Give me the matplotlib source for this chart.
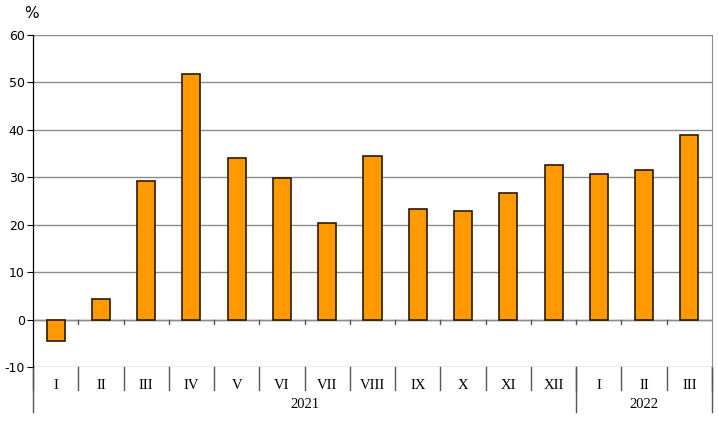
import matplotlib.pyplot as plt
from matplotlib.lines import Line2D
import matplotlib.transforms as mtransforms

plt.rcParams["axes.unicode_minus"] = False

# months and yearly growth, %
months = ["I", "II", "III", "IV", "V", "VI", "VII", "VIII", "IX", "X", "XI", "XII",
          "I", "II", "III"]
values = [-4.5, 4.3, 29.2, 51.8, 34.1, 29.9, 20.4, 34.5, 23.3, 22.9, 26.7, 32.6,
          30.7, 31.5, 38.9]
years = ["2021", "2022"]
year_counts = [12, 3]

fig = plt.figure(figsize=(7.18, 4.28), dpi=100)
W, H = 718, 428
ax = fig.add_axes([33 / W, (H - 367) / H, 679 / W, 332 / H])

x = list(range(len(values)))
ax.bar(x, values, width=0.4, color="#FF9900", edgecolor="#2b1a00", linewidth=1.2, zorder=3)

ax.set_xlim(-0.5, len(values) - 0.5)
ax.set_ylim(-10, 60)
ax.set_yticks(range(-10, 61, 10))
ax.tick_params(axis="y", direction="out", length=4, width=0.8, labelsize=9, pad=2)
ax.set_xticks([])
ax.yaxis.grid(True, color="#8c8c8c", linewidth=1, zorder=0)

for s in ["top", "bottom"]:
    ax.spines[s].set_visible(False)
ax.spines["right"].set_color("#8c8c8c")
ax.spines["left"].set_linewidth(0.9)

# zero line with small ticks at category boundaries
ax.axhline(0, color="#8c8c8c", linewidth=1, zorder=2)
trans = mtransforms.blended_transform_factory(ax.transData, ax.transAxes)
px = 1 / 332
for b in range(1, len(values)):
    ax.add_line(Line2D([b - 0.5, b - 0.5], [10 / 70, 10 / 70 - 4 * px], transform=trans,
                       color="#555555", linewidth=1, clip_on=False))

# month labels and separators
for i, m in enumerate(months):
    ax.text(i, -12 * px, m, transform=trans, ha="center", va="top",
            family="Liberation Serif", fontsize=10.5)
for b in range(0, len(values) + 1):
    ax.add_line(Line2D([b - 0.5, b - 0.5], [0, -23 * px], transform=trans,
                       color="#555555", linewidth=1, clip_on=False))

# year labels and separators
start = 0
ax.add_line(Line2D([-0.5, -0.5], [0, -45 * px], transform=trans,
                   color="#555555", linewidth=1, clip_on=False))
for y, n in zip(years, year_counts):
    mid = start + (n - 1) / 2
    ax.text(mid, -31 * px, y, transform=trans, ha="center", va="top",
            family="Liberation Serif", fontsize=10.5)
    end = start + n - 0.5
    ax.add_line(Line2D([end, end], [0, -45 * px], transform=trans,
                       color="#555555", linewidth=1, clip_on=False))
    start += n

fig.text(24 / W, 1 - 14 / H, "%", ha="left", va="center", fontsize=11)

fig.savefig("out.png", dpi=100)
